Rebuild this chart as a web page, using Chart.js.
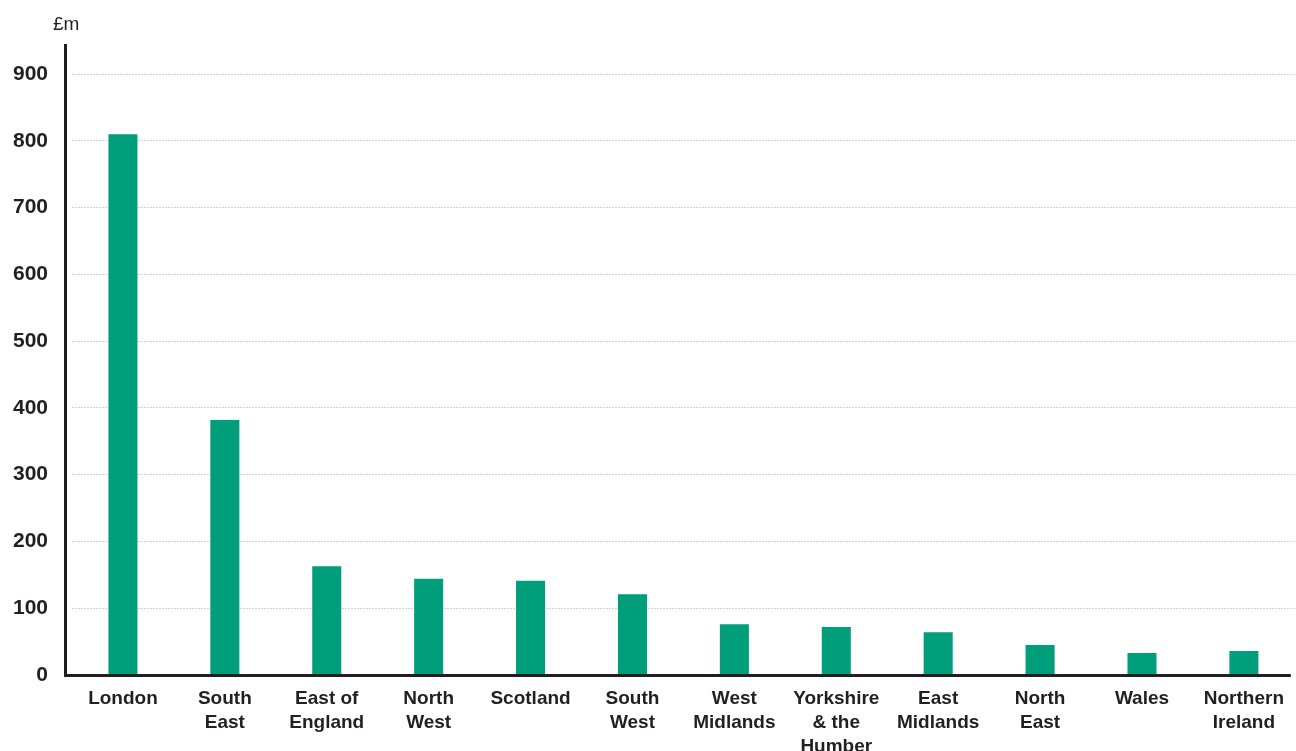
<!DOCTYPE html>
<html>
<head>
<meta charset="utf-8">
<script src="https://cdn.jsdelivr.net/npm/chart.js@4/dist/chart.umd.min.js"></script>
<style>
  html, body { margin: 0; padding: 0; background: #fff; }
  #wrap { width: 1296px; height: 751px; position: relative; }
</style>
</head>
<body>
<div id="wrap"><canvas id="myChart"></canvas></div>
<script>
var regions = [
  'London', ['South', 'East'], ['East of', 'England'], ['North', 'West'], 'Scotland',
  ['South', 'West'], ['West', 'Midlands'], ['Yorkshire', '& the', 'Humber'],
  ['East', 'Midlands'], ['North', 'East'], 'Wales', ['Northern', 'Ireland']
];
var values = [810, 382, 163, 144, 141, 121, 76, 72, 64, 45, 33, 36];
var yTicks = [0, 100, 200, 300, 400, 500, 600, 700, 800, 900];
var unitLabel = '£m';

var ink = '#231f20';

// axis lines sit a few px left of the first category, as in the original
var axisLines = {
  id: 'axisLines',
  afterDraw: function(chart) {
    var ctx = chart.ctx, a = chart.chartArea;
    var x0 = a.left - 6.5;
    ctx.save();
    ctx.strokeStyle = ink;
    ctx.lineWidth = 3;
    ctx.beginPath();
    ctx.moveTo(x0, a.top);
    ctx.lineTo(x0, a.bottom + 1.5);
    ctx.moveTo(x0 - 1.5, a.bottom + 0.5);
    ctx.lineTo(a.right - 4, a.bottom + 0.5);
    ctx.stroke();
    ctx.fillStyle = ink;
    ctx.font = '19px "Liberation Sans", Arial, sans-serif';
    ctx.textBaseline = 'middle';
    ctx.textAlign = 'left';
    ctx.fillText(unitLabel, 53, 25);
    ctx.restore();
  }
};

new Chart('myChart', {
  type: 'bar',
  data: {
    labels: regions,
    datasets: [{
      data: values,
      backgroundColor: '#009e7b',
      barPercentage: 0.57,
      categoryPercentage: 0.5
    }]
  },
  options: {
    responsive: true,
    maintainAspectRatio: false,
    animation: false,
    layout: { padding: { top: 44, right: 0, left: 0, bottom: 0 } },
    plugins: { legend: { display: false }, tooltip: { enabled: false } },
    scales: {
      x: {
        grid: { display: false, drawTicks: false },
        border: { display: false },
        afterFit: function(s) { s.height = 76; },
        ticks: {
          autoSkip: false,
          maxRotation: 0,
          padding: 12,
          color: ink,
          font: { family: '"Liberation Sans", Arial, sans-serif', size: 19, weight: 'bold', lineHeight: 1.25 }
        }
      },
      y: {
        min: 0,
        max: 945,
        afterBuildTicks: function(s) { s.ticks = yTicks.map(function(v) { return { value: v }; }); },
        afterFit: function(s) { s.width = 72; },
        border: { display: false, dash: [2, 1] },
        grid: {
          drawTicks: false,
          color: function(c) { return c.tick && c.tick.value === 0 ? 'rgba(0,0,0,0)' : '#d2d2d2'; },
          lineWidth: 1
        },
        ticks: {
          padding: 24,
          color: ink,
          font: { family: '"Liberation Sans", Arial, sans-serif', size: 21, weight: 'bold' }
        }
      }
    }
  },
  plugins: [axisLines]
});
</script>
</body>
</html>
